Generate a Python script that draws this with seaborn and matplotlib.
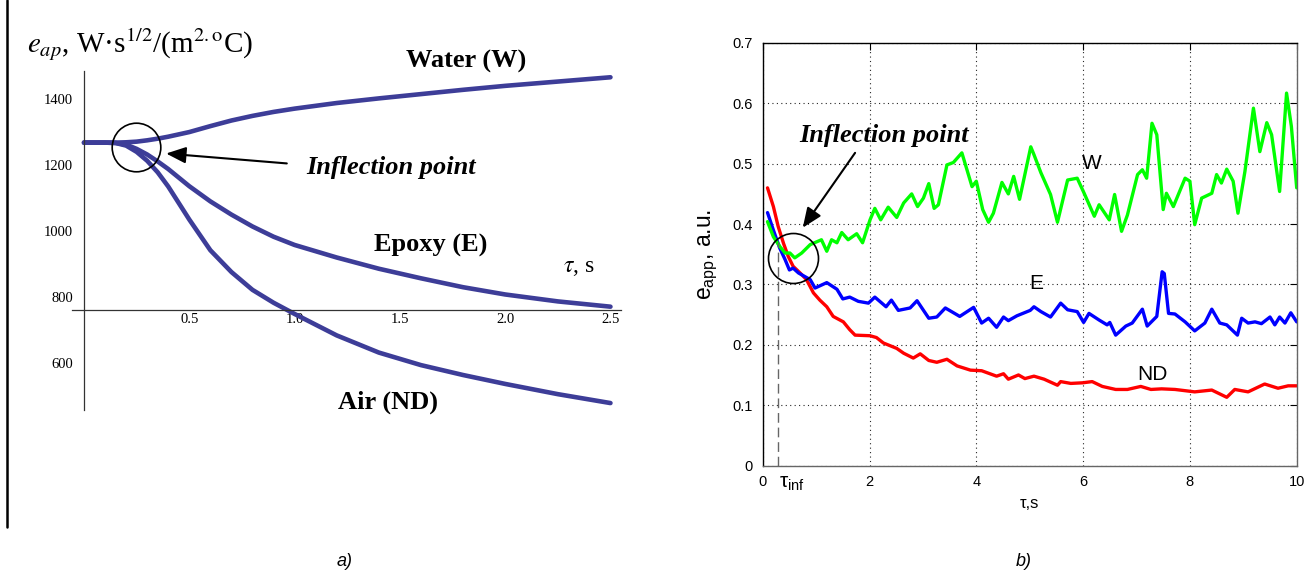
import matplotlib
matplotlib.use("Agg")
import matplotlib.pyplot as plt
import matplotlib.ticker as mticker
import matplotlib.transforms as mtransforms
import pandas as pd
import seaborn as sns

# ---------- a) model curves, e_ap vs tau ----------
tau_model = [0.0, 0.10, 0.15, 0.20, 0.25, 0.30, 0.35, 0.40, 0.50, 0.60, 0.70,
             0.80, 0.90, 1.00, 1.20, 1.40, 1.60, 1.80, 2.00, 2.25, 2.50]
e_water = [1268, 1268, 1268, 1269, 1271, 1275, 1280, 1286, 1300, 1318, 1335,
           1349, 1361, 1371, 1388, 1402, 1415, 1428, 1440, 1453, 1466]
e_epoxy = [1268, 1268, 1267, 1262, 1249, 1232, 1211, 1188, 1136, 1090, 1050,
           1014, 983, 958, 920, 886, 857, 830, 808, 787, 771]
e_air = [1268, 1268, 1267, 1259, 1240, 1213, 1178, 1135, 1035, 942, 876,
         822, 783, 749, 684, 632, 594, 564, 537, 506, 479]
a_xticks = [0.5, 1.0, 1.5, 2.0, 2.5]
a_yticks = [600, 800, 1000, 1200, 1400]
a_axis_y = 760          # where the tau axis crosses
a_circle = (0.247, 1255)
a_arrow_tip = (0.39, 1235)
a_arrow_tail = (0.963, 1205)

# ---------- b) measured e_app vs tau ----------
tau_w = [0.09, 0.20, 0.32, 0.42, 0.51, 0.60, 0.73, 0.89, 1.10, 1.20,
         1.29, 1.39, 1.48, 1.60, 1.76, 1.87, 2.01, 2.10, 2.21, 2.35,
         2.51, 2.64, 2.79, 2.90, 3.01, 3.11, 3.21, 3.29, 3.45, 3.57,
         3.73, 3.92, 4.00, 4.12, 4.23, 4.32, 4.48, 4.60, 4.70, 4.81,
         5.02, 5.08, 5.21, 5.39, 5.52, 5.71, 5.89, 6.02, 6.21, 6.30,
         6.49, 6.59, 6.72, 6.83, 7.02, 7.11, 7.19, 7.29, 7.38, 7.50,
         7.56, 7.69, 7.91, 8.00, 8.09, 8.22, 8.41, 8.50, 8.59, 8.69,
         8.81, 8.90, 9.03, 9.19, 9.31, 9.44, 9.53, 9.68, 9.81, 9.90,
         10.0]
e_w = [0.404, 0.379, 0.363, 0.352, 0.352, 0.344, 0.352, 0.366, 0.374, 0.355,
       0.374, 0.369, 0.386, 0.374, 0.384, 0.369, 0.407, 0.426, 0.407, 0.428,
       0.411, 0.435, 0.450, 0.429, 0.443, 0.467, 0.426, 0.432, 0.498, 0.502,
       0.518, 0.462, 0.471, 0.424, 0.403, 0.418, 0.469, 0.450, 0.479, 0.441,
       0.528, 0.515, 0.485, 0.449, 0.403, 0.473, 0.476, 0.451, 0.413, 0.432,
       0.407, 0.449, 0.388, 0.415, 0.482, 0.490, 0.476, 0.567, 0.548, 0.424,
       0.451, 0.429, 0.476, 0.471, 0.399, 0.443, 0.451, 0.482, 0.468, 0.491,
       0.471, 0.418, 0.487, 0.592, 0.520, 0.568, 0.548, 0.454, 0.617, 0.562,
       0.460]

tau_e = [0.09, 0.20, 0.32, 0.42, 0.50, 0.57, 0.67, 0.79, 0.89, 0.98,
         1.20, 1.39, 1.50, 1.63, 1.79, 1.98, 2.10, 2.31, 2.41,
         2.54, 2.76, 2.89, 3.11, 3.26, 3.42, 3.69, 3.95, 4.10, 4.23,
         4.38, 4.51, 4.60, 4.76, 5.01, 5.08, 5.21, 5.39, 5.58, 5.71,
         5.89, 6.01, 6.11, 6.30, 6.45, 6.50, 6.61, 6.80, 6.92, 7.11,
         7.20, 7.38, 7.48, 7.52, 7.60, 7.72, 7.91, 8.09, 8.28, 8.41,
         8.56, 8.69, 8.89, 8.97, 9.09, 9.22, 9.34, 9.50, 9.59, 9.68,
         9.78, 9.89, 10.0]
e_e = [0.419, 0.390, 0.360, 0.341, 0.324, 0.327, 0.319, 0.313, 0.308, 0.294,
       0.303, 0.292, 0.276, 0.279, 0.272, 0.269, 0.279, 0.263, 0.274,
       0.257, 0.261, 0.273, 0.244, 0.246, 0.261, 0.247, 0.262, 0.236, 0.244,
       0.229, 0.246, 0.240, 0.248, 0.257, 0.263, 0.255, 0.246, 0.269, 0.258,
       0.255, 0.237, 0.252, 0.241, 0.233, 0.237, 0.216, 0.231, 0.236, 0.259,
       0.231, 0.247, 0.321, 0.318, 0.252, 0.251, 0.238, 0.223, 0.236, 0.259,
       0.236, 0.233, 0.216, 0.244, 0.236, 0.238, 0.235, 0.246, 0.233, 0.246,
       0.236, 0.253, 0.238]

tau_nd = [0.09, 0.20, 0.29, 0.39, 0.48, 0.57, 0.70, 0.82, 0.95, 1.07,
          1.20, 1.32, 1.51, 1.63, 1.73, 2.01, 2.13, 2.26, 2.51, 2.64,
          2.82, 2.95, 3.11, 3.26, 3.45, 3.64, 3.89, 4.10, 4.38, 4.51,
          4.60, 4.79, 4.91, 5.08, 5.27, 5.52, 5.58, 5.77, 5.99, 6.17,
          6.36, 6.61, 6.83, 7.08, 7.27, 7.47, 7.72, 8.09, 8.41, 8.69,
          8.84, 9.09, 9.40, 9.65, 9.84, 10.0]
e_nd = [0.460, 0.429, 0.396, 0.368, 0.346, 0.330, 0.319, 0.308, 0.286, 0.274,
        0.263, 0.247, 0.238, 0.225, 0.216, 0.215, 0.212, 0.203, 0.194, 0.186,
        0.178, 0.185, 0.174, 0.171, 0.176, 0.165, 0.158, 0.157, 0.148, 0.152,
        0.143, 0.150, 0.144, 0.148, 0.143, 0.133, 0.139, 0.136, 0.137, 0.139,
        0.131, 0.126, 0.126, 0.131, 0.126, 0.127, 0.126, 0.122, 0.125, 0.113,
        0.126, 0.122, 0.135, 0.128, 0.132, 0.132]

b_xticks = [0, 2, 4, 6, 8, 10]
b_yticks = [0, 0.1, 0.2, 0.3, 0.4, 0.5, 0.6, 0.7]
tau_inf = 0.29
tau_inf_top = 0.37
b_circle = (0.56, 0.344)
b_arrow_tip = (0.75, 0.394)
b_arrow_tail = (1.73, 0.518)

# ---------- style ----------
sns.set_style("white")
plt.rcParams["font.family"] = ["Liberation Sans", "DejaVu Sans"]
plt.rcParams["mathtext.fontset"] = "custom"
plt.rcParams["mathtext.rm"] = "Liberation Sans"
plt.rcParams["mathtext.it"] = "Liberation Sans:italic"
for key in ["text.color", "axes.labelcolor", "xtick.color", "ytick.color"]:
    plt.rcParams[key] = "black"

SERIF = "Liberation Serif"
line_a = "#3d3d98"

fig = plt.figure(figsize=(13.13, 5.77), dpi=100)
W, H = 1313, 577
ax_a = fig.add_axes([72 / W, 1 - 410 / H, 549 / W, 339 / H])
ax_b = fig.add_axes([762.7 / W, 1 - 465.5 / H, 534 / W, 422.5 / H])

# black bar at the left edge of the page
fig.add_artist(plt.Line2D([7 / W, 7 / W], [1, 1 - 527 / H], color="k", lw=1.8,
                          transform=fig.transFigure))

# ---------- panel a ----------
n = len(tau_model)
df_a = pd.DataFrame({
    "tau": tau_model * 3,
    "e": e_water + e_epoxy + e_air,
    "medium": ["Water"] * n + ["Epoxy"] * n + ["Air"] * n,
})
sns.lineplot(data=df_a, x="tau", y="e", hue="medium", estimator=None,
             palette={"Water": line_a, "Epoxy": line_a, "Air": line_a},
             lw=3.3, legend=False, ax=ax_a)
ax_a.set_xlim(-0.057, 2.55)
ax_a.set_ylim(458, 1485)
ax_a.set_xlabel("")
ax_a.set_ylabel("")
for s in ["top", "right"]:
    ax_a.spines[s].set_visible(False)
ax_a.spines["left"].set_position(("data", 0))
ax_a.spines["bottom"].set_position(("data", a_axis_y))
for s in ["left", "bottom"]:
    ax_a.spines[s].set_color("0.2")
    ax_a.spines[s].set_linewidth(0.9)
ax_a.set_xticks(a_xticks, labels=[f"{t:.1f}" for t in a_xticks])
ax_a.set_yticks(a_yticks)
ax_a.xaxis.set_minor_locator(mticker.MultipleLocator(0.1))
ax_a.yaxis.set_minor_locator(mticker.MultipleLocator(50))
ax_a.tick_params(which="major", direction="in", length=4, width=0.8, color="0.2",
                 labelsize=10.5, labelfontfamily=SERIF, labelcolor="black")
ax_a.tick_params(which="minor", direction="in", length=2.2, width=0.6, color="0.3")
ax_a.tick_params(axis="x", which="major", pad=2)
ax_a.tick_params(axis="y", which="major", pad=8)

ax_a.plot([a_circle[0]], [a_circle[1]], marker="o", ms=35, mfc="none", mec="k", mew=1.2)
ax_a.annotate("", xy=a_arrow_tip, xytext=a_arrow_tail,
              arrowprops=dict(arrowstyle="-|>,head_length=0.6,head_width=0.25",
                              color="k", lw=1.5, mutation_scale=20,
                              shrinkA=0, shrinkB=0))
bold_it = dict(fontfamily=SERIF, fontweight="bold", fontstyle="italic", fontsize=19,
               color="black")
ax_a.text(1.458, 1194, "Inflection point", ha="center", va="center", **bold_it)
bold = dict(fontfamily=SERIF, fontweight="bold", fontsize=19, color="black")
ax_a.text(1.815, 1515, "Water (W)", ha="center", va="center", **bold)
ax_a.text(1.644, 958, "Epoxy (E)", ha="center", va="center", **bold)
ax_a.text(1.444, 482, "Air (ND)", ha="center", va="center", **bold)
ax_a.text(2.35, 891, r"$\tau$, s", ha="center", va="center", fontsize=17,
          fontfamily=SERIF, math_fontfamily="stix")
ax_a.text(0.266, 1564, r"$e_{ap}$, W·s$^{1/2}$/(m$^{2.\mathrm{o}}$C)",
          ha="center", va="center", fontsize=21, fontfamily=SERIF,
          math_fontfamily="stix")

# ---------- panel b ----------
df_b = pd.DataFrame({
    "tau": tau_nd + tau_e + tau_w,
    "e": e_nd + e_e + e_w,
    "sample": ["ND"] * len(tau_nd) + ["E"] * len(tau_e) + ["W"] * len(tau_w),
})
sns.lineplot(data=df_b, x="tau", y="e", hue="sample", estimator=None,
             palette={"ND": "#ff0000", "E": "#0000ff", "W": "#00ff00"},
             lw=2.4, legend=False, ax=ax_b)
ax_b.set_xlim(0, 10)
ax_b.set_ylim(0, 0.7)
ax_b.set_xlabel("")
ax_b.set_ylabel("")
ax_b.set_xticks(b_xticks)
ax_b.set_yticks(b_yticks, labels=["0"] + [f"{v:.1f}" for v in b_yticks[1:]])
ax_b.grid(True, color="0.15", linestyle=(0, (1, 3)), lw=0.8)
ax_b.tick_params(direction="in", length=5, width=0.8, top=True, right=True,
                 labelsize=10.5, pad=7, color="k", labelcolor="black")
for s in ["left", "top"]:
    ax_b.spines[s].set_color("k")
for s in ["right", "bottom"]:
    ax_b.spines[s].set_color("0.4")
for s in ax_b.spines.values():
    s.set_linewidth(1.0)

ax_b.plot([tau_inf, tau_inf], [0, tau_inf_top], color="0.4", lw=1.0,
          linestyle=(0, (7, 3.5)))
ax_b.plot([b_circle[0]], [b_circle[1]], marker="o", ms=36, mfc="none", mec="k", mew=1.2)
ax_b.annotate("", xy=b_arrow_tip, xytext=b_arrow_tail,
              arrowprops=dict(arrowstyle="-|>,head_length=0.6,head_width=0.25",
                              color="k", lw=1.5, mutation_scale=20,
                              shrinkA=0, shrinkB=0))
ax_b.text(2.27, 0.546, "Inflection point", ha="center", va="center", **bold_it)
ax_b.text(6.16, 0.501, "W", ha="center", va="center", fontsize=15, color="black")
ax_b.text(5.12, 0.302, "E", ha="center", va="center", fontsize=15, color="black")
ax_b.text(7.29, 0.150, "ND", ha="center", va="center", fontsize=15, color="black")

trans = mtransforms.blended_transform_factory(ax_b.transData, ax_b.transAxes)
ax_b.text(tau_inf + 0.01, -0.02, r"$\mathrm{τ_{inf}}$", transform=trans,
          ha="left", va="top", fontsize=15, math_fontfamily="custom")
ax_b.text(0.5, -0.072, "τ,s", transform=ax_b.transAxes, ha="center", va="top",
          fontsize=12)
ax_b.text(-0.102, 0.5, r"$\mathrm{e_{app}}$, a.u.", transform=ax_b.transAxes,
          rotation=90, ha="center", va="center", fontsize=16.5,
          math_fontfamily="custom")

fig.text(345 / W, 1 - 562 / H, "a)", ha="center", va="center", fontsize=13,
         fontstyle="italic")
fig.text(1024 / W, 1 - 562 / H, "b)", ha="center", va="center", fontsize=13,
         fontstyle="italic")

fig.savefig("out.png", dpi=100)
